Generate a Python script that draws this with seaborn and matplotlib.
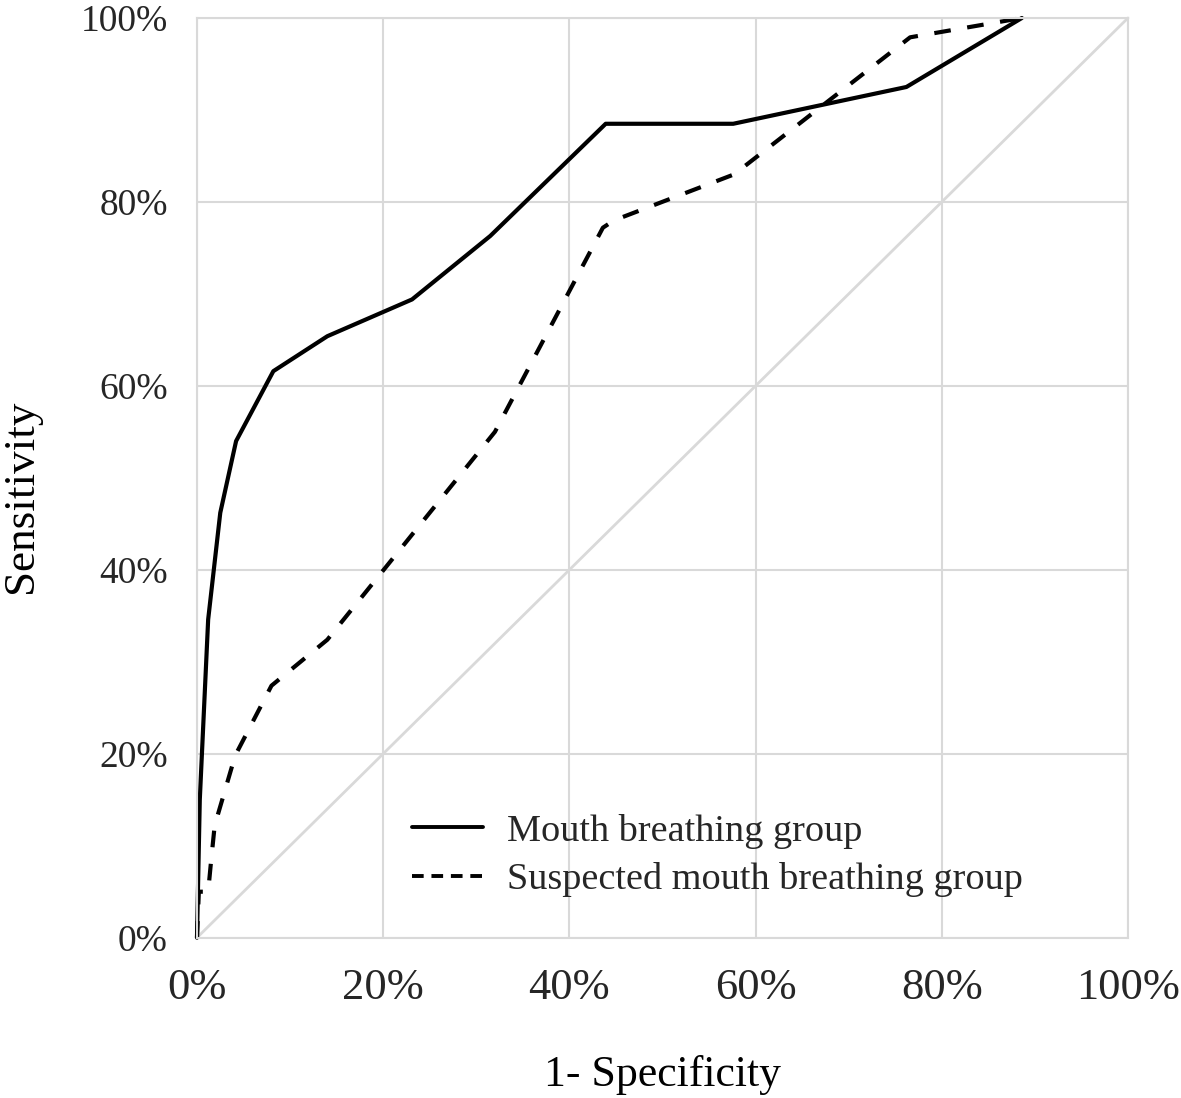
import matplotlib
matplotlib.use('Agg')
import matplotlib.pyplot as plt
import pandas as pd
import seaborn as sns
from matplotlib.lines import Line2D
from matplotlib.ticker import PercentFormatter

# ROC curves (percent)
mouth_fpr = [0, 0.3, 1.2, 2.5, 4.2, 8.2, 14.0, 23.1, 31.5, 43.9, 57.6, 76.2, 88.6]
mouth_tpr = [0, 15.0, 34.6, 46.2, 54.0, 61.6, 65.4, 69.4, 76.3, 88.5, 88.5, 92.5, 100]

suspected_fpr = [0, 0.2, 1.2, 1.5, 1.9, 4.1, 8.0, 14.0, 32.0, 43.6, 44.8, 57.7, 76.6, 88.6]
suspected_tpr = [0, 5.0, 5.0, 8.2, 12.2, 19.8, 27.4, 32.4, 55.0, 77.2, 78.0, 83.0, 97.9, 100]

ref_line = [0, 100]

labels = ['Mouth breathing group', 'Suspected mouth breathing group']
tick_vals = [0, 20, 40, 60, 80, 100]

df_mouth = pd.DataFrame({'fpr': mouth_fpr, 'tpr': mouth_tpr})
df_susp = pd.DataFrame({'fpr': suspected_fpr, 'tpr': suspected_tpr})
df_ref = pd.DataFrame({'fpr': ref_line, 'tpr': ref_line})

sns.set_theme(style='white')
plt.rcParams['font.family'] = ['Liberation Serif', 'DejaVu Serif']

grid_col = '#d9d9d9'

fig = plt.figure(figsize=(11.81, 10.98), dpi=100)
ax = fig.add_axes([0.1668, 0.146, 0.7883, 0.8376])

# diagonal chance line
sns.lineplot(data=df_ref, x='fpr', y='tpr', ax=ax, color=grid_col, linewidth=2.0,
             estimator=None, sort=False)
sns.lineplot(data=df_mouth, x='fpr', y='tpr', ax=ax, color='black', linewidth=3.0,
             estimator=None, sort=False)
sns.lineplot(data=df_susp, x='fpr', y='tpr', ax=ax, color='black', linewidth=3.0,
             estimator=None, sort=False)
ax.lines[-1].set_dashes((4.0, 4.0))
for ln in ax.lines:
    ln.set_clip_on(False)

ax.set_xlim(0, 100)
ax.set_ylim(0, 100)
ax.set_xticks(tick_vals)
ax.set_yticks(tick_vals)
ax.xaxis.set_major_formatter(PercentFormatter(decimals=0))
ax.yaxis.set_major_formatter(PercentFormatter(decimals=0))
ax.grid(True, color=grid_col, linewidth=1.5)
ax.set_axisbelow(True)
for s in ax.spines.values():
    s.set_color(grid_col)
    s.set_linewidth(1.5)

ax.tick_params(axis='x', length=0, pad=22, labelsize=32, labelcolor='#262626')
ax.tick_params(axis='y', length=0, pad=21, labelsize=27, labelcolor='#262626')

ax.set_xlabel('1- Specificity', fontsize=31.5, color='black', labelpad=34)
ax.set_ylabel('Sensitivity', fontsize=32.5, color='black')
ax.yaxis.set_label_coords(-0.168, 0.48)

handles = [
    Line2D([], [], color='black', linewidth=2.8),
    Line2D([], [], color='black', linewidth=2.8, dashes=(3.0, 2.0)),
]
ax.legend(handles, labels, loc='lower left', bbox_to_anchor=(0.194, 0.007),
          frameon=False, fontsize=27.5, handlelength=1.85, handletextpad=0.65,
          labelspacing=0.35)

fig.savefig('out.png', dpi=100)
